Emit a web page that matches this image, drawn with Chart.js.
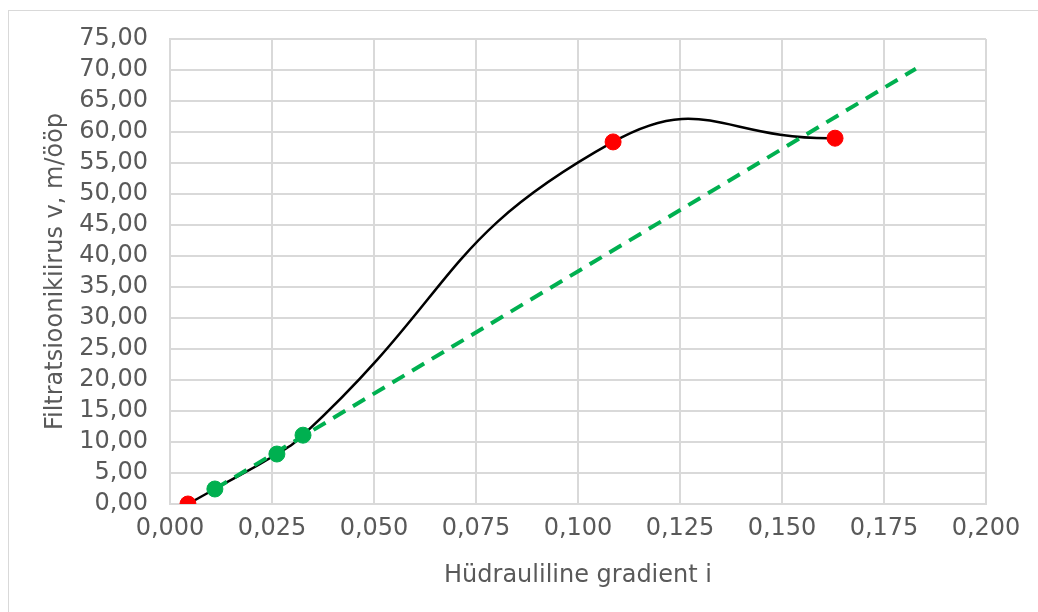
<!DOCTYPE html>
<html>
<head>
<meta charset="utf-8">
<script src="https://cdn.jsdelivr.net/npm/chart.js@4"></script>
<style>
  html, body { margin: 0; padding: 0; background: #fff; }
  #wrap { width: 1038px; height: 612px; }
</style>
</head>
<body>
<div id="wrap"><canvas id="gradChart"></canvas></div>
<script>
// measured points: hydraulic gradient i vs filtration velocity v
const gradient = [0.0044, 0.0110, 0.0262, 0.0326, 0.1086, 0.1630];
const velocity = [0.00, 2.42, 8.06, 11.10, 58.40, 59.00];
const greenIdx = [1, 2, 3];
const redIdx = [0, 4, 5];
// linear trend (green points), endpoints
const trendX = [0.0110, 0.1828];
const trendY = [2.42, 70.2];

const xTicks = { min: 0, max: 0.2, step: 0.025 };
const yTicks = { min: 0, max: 75, step: 5 };

const pts = idx => idx.map(i => ({ x: gradient[i], y: velocity[i] }));
const grey = '#595959';
const gridCol = '#d9d9d9';
const font = { family: 'DejaVu Sans', size: 24 };

const chartBorder = {
  id: 'chartBorder',
  beforeDraw(chart) {
    const c = chart.ctx;
    c.save();
    c.fillStyle = '#fff';
    c.fillRect(0, 0, chart.width, chart.height);
    c.strokeStyle = gridCol;
    c.lineWidth = 1;
    c.strokeRect(8.5, 10.5, chart.width + 10, chart.height + 10);
    c.restore();
  }
};

const ctx = document.getElementById('gradChart');

new Chart(ctx, {
  type: 'scatter',
  data: {
    datasets: [{
      label: 'Red',
      data: pts(redIdx),
      backgroundColor: '#ff0000',
      borderColor: '#ff0000',
      pointRadius: 8,
      order: 1
    },
    {
      label: 'Green',
      data: pts(greenIdx),
      backgroundColor: '#00b050',
      borderColor: '#00b050',
      pointRadius: 8,
      order: 2
    },
    {
      label: 'Trend',
      data: trendX.map((x, i) => ({ x: x, y: trendY[i] })),
      showLine: true,
      borderColor: '#00b050',
      borderWidth: 4,
      borderDash: [14, 9],
      pointRadius: 0,
      order: 3
    },
    {
      label: 'Smooth',
      data: gradient.map((x, i) => ({ x: x, y: velocity[i] })),
      showLine: true,
      borderColor: '#000000',
      borderWidth: 2.5,
      tension: 0.5,
      pointRadius: 0,
      order: 4
    }]
  },
  options: {
    responsive: true,
    maintainAspectRatio: false,
    animation: false,
    layout: { padding: { left: 37, top: 39, right: 52, bottom: 18 } },
    plugins: { legend: { display: false }, tooltip: { enabled: false } },
    scales: {
      x: {
        min: xTicks.min,
        max: xTicks.max,
        afterFit(s) { s.height = 90; },
        grid: { color: gridCol, lineWidth: 2, drawTicks: false },
        border: { color: gridCol, width: 2 },
        ticks: {
          stepSize: xTicks.step,
          autoSkip: false,
          maxRotation: 0,
          padding: 10,
          color: grey,
          font: font,
          callback: v => v.toFixed(3).replace('.', ',')
        },
        title: {
          display: true,
          text: 'Hüdrauliline gradient i',
          color: grey,
          font: font
        }
      },
      y: {
        min: yTicks.min,
        max: yTicks.max,
        afterFit(s) { s.width = 170 - 37; },
        grid: { color: gridCol, lineWidth: 2, drawTicks: false },
        border: { color: gridCol, width: 2 },
        ticks: {
          stepSize: yTicks.step,
          autoSkip: false,
          padding: 22,
          color: grey,
          font: font,
          callback: v => v.toFixed(2).replace('.', ',')
        },
        title: {
          display: true,
          text: 'Filtratsioonikiirus v, m/ööp',
          color: grey,
          font: font
        }
      }
    }
  },
  plugins: [chartBorder]
});
</script>
</body>
</html>
